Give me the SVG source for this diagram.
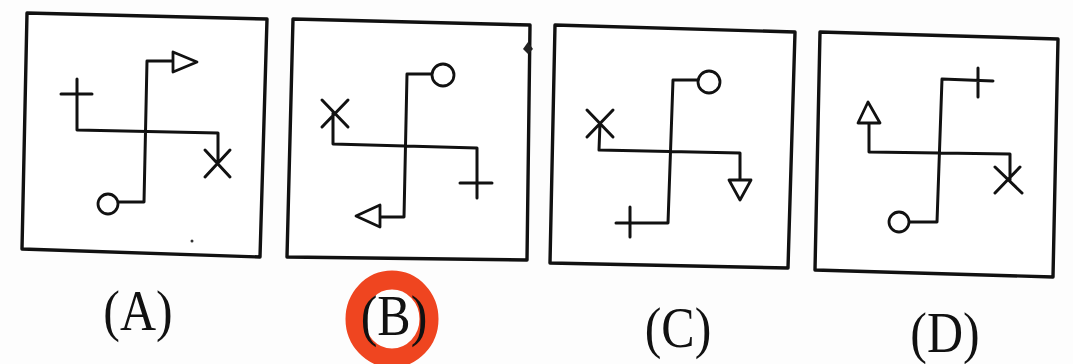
<svg xmlns="http://www.w3.org/2000/svg" width="1073" height="364" viewBox="0 0 1073 364">
<style>
.box{fill:#fff;stroke:#111;stroke-width:3.4;stroke-linejoin:round}
.ln{fill:none;stroke:#111;stroke-width:3;stroke-linejoin:round;stroke-linecap:round}
.sh{fill:#fff;stroke:#111;stroke-width:2.8;stroke-linejoin:round}
.lbl{font-family:"Liberation Serif","DejaVu Serif",serif;font-size:50px;fill:#111;text-anchor:middle}
</style>
<rect width="1073" height="364" fill="#fdfdfd"/>
<g id="optionA">
<polygon class="box" points="27,13 267,19 260,257 22,249"/>
<path class="ln" d="M61,94 H92 M77,79 V130 L218,133 V163 M205,150 L230,177 M230,150 L205,177 M173,61 H147 L144,202 H118"/>
<polygon class="sh" points="173,52 197,62 173,72"/>
<circle class="sh" cx="108" cy="204" r="10"/>
<circle cx="192" cy="241" r="1.5" fill="#333"/>
</g>
<g id="optionB">
<polygon class="box" points="293,19 530,25 527,260 287,257"/>
<path d="M528,42 L533,49 L528,54 L523,49 Z" fill="#222"/>
<path class="ln" d="M432,74 H407 L404,217 H380 M322,100 L348,127 M348,100 L322,127 M333,113 V144 L477,148 V198 M460,183 H492"/>
<polygon class="sh" points="356,216 380,205 380,227"/>
<circle class="sh" cx="443" cy="75" r="11"/>
</g>
<g id="optionC">
<polygon class="box" points="555,25 795,32 788,268 550,263"/>
<path class="ln" d="M698,80 H673 L668,223 H616 M630,207 V237 M587,110 L613,137 M613,110 L587,137 M600,123 L599,150 L740,153 V180"/>
<polygon class="sh" points="729,180 751,180 740,200"/>
<circle class="sh" cx="709" cy="82" r="11"/>
</g>
<g id="optionD">
<polygon class="box" points="820,32 1058,39 1053,277 815,270"/>
<path class="ln" d="M993,81 L942,79 L937,222 H909 M978,68 V97 M869,123 V152 L1010,154 V180 M995,167 L1022,193 M1020,167 L995,193"/>
<polygon class="sh" points="868,102 858,123 880,123"/>
<circle class="sh" cx="899" cy="222" r="10"/>
</g>
<g id="connectors"></g>
<g id="labels">
<ellipse cx="392" cy="319" rx="37" ry="39" fill="none" stroke="#ef4520" stroke-width="19"/>
<text class="lbl" transform="translate(138,330) scale(1,1.12)">(A)</text>
<text class="lbl" transform="translate(394,335) scale(1,1.12)">(B)</text>
<text class="lbl" transform="translate(678,347) scale(1,1.12)">(C)</text>
<text class="lbl" transform="translate(945,352) scale(1,1.12)">(D)</text>
</g>
</svg>
